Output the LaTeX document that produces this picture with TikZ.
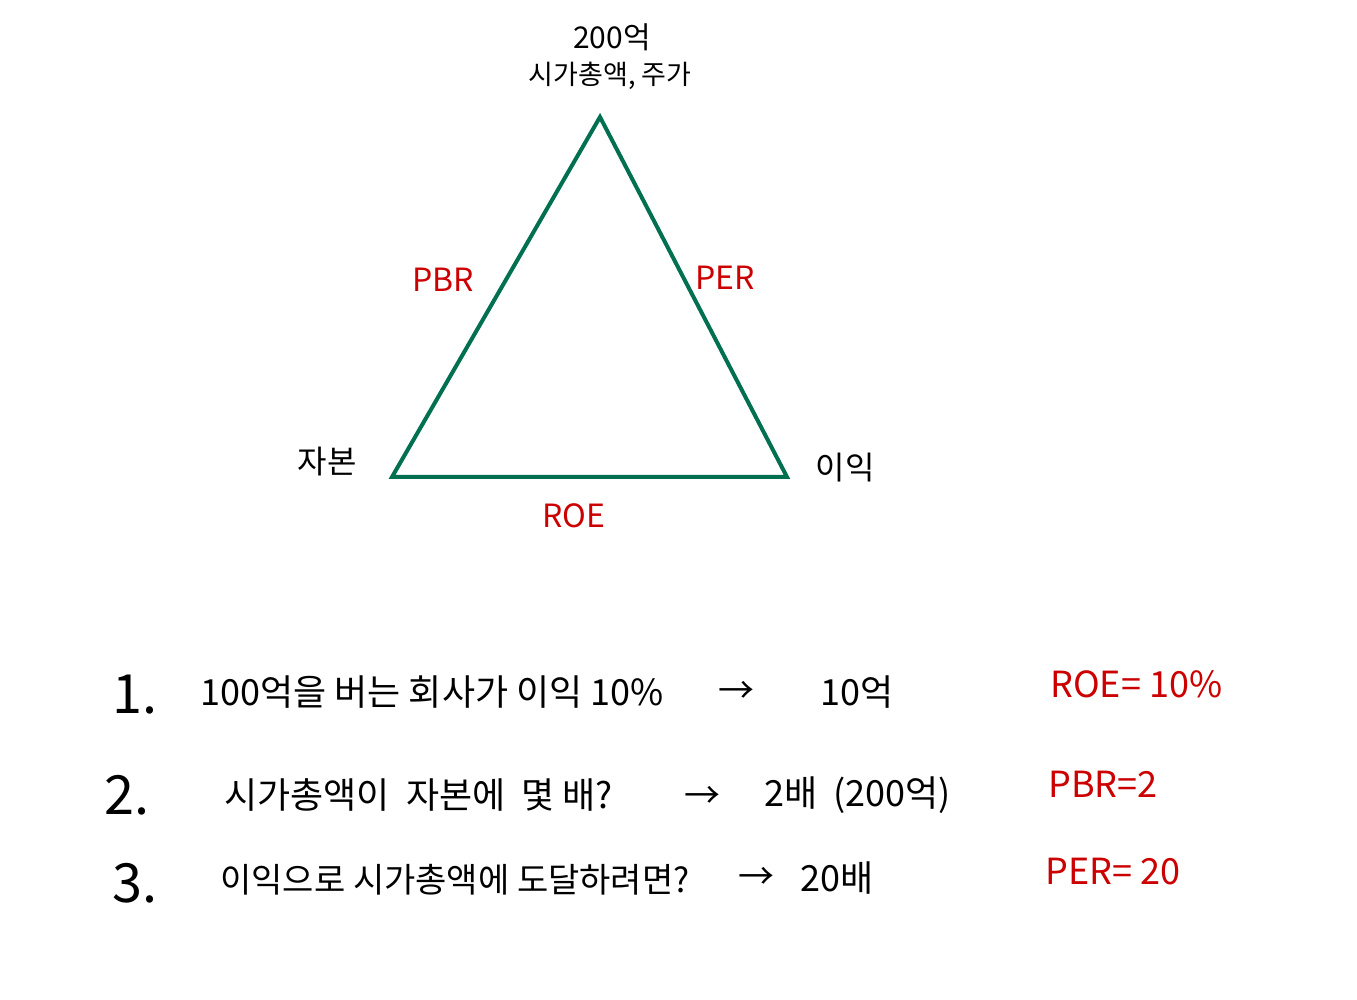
\documentclass[tikz,border=0pt]{standalone}
\usepackage{fontspec}
\setmainfont{Noto Sans CJK KR}
\definecolor{tgreen}{RGB}{0,112,80}
\definecolor{tred}{RGB}{204,0,0}
\begin{document}
\begin{tikzpicture}[x=0.5pt,y=-0.5pt,
  lbl/.style={inner sep=0pt, font=\fontsize{16}{18}\selectfont},
  redlbl/.style={inner sep=0pt, text=tred, font=\fontsize{16}{19}\selectfont},
  body/.style={inner sep=0pt, anchor=west, font=\fontsize{18}{21}\selectfont},
  num/.style={inner sep=0pt, anchor=west, font=\fontsize{27}{30}\selectfont},
  ans/.style={inner sep=0pt, anchor=west, text=tred, font=\fontsize{18}{21}\selectfont}]
\useasboundingbox[fill=white] (0,0) rectangle (1357,1000);
% triangle
\coordinate (top) at (600,117);
\coordinate (bl) at (392,477);
\coordinate (br) at (787,477);
\draw[tgreen, line width=2pt, line join=miter] (top) -- (br) -- (bl) -- cycle;
% vertex labels
\node[lbl, font=\fontsize{15}{16}\selectfont] (amt) at (612,37) {200억};
\node[lbl, font=\fontsize{13.5}{16}\selectfont] (cap) at (610,76) {시가총액, 주가};
\node[lbl] (equity) at (327,462) {자본};
\node[lbl] (profit) at (845,468) {이익};
% edge labels
\node[redlbl] (pbr) at (443,280) {PBR};
\node[redlbl] (per) at (725,278) {PER};
\node[redlbl] (roe) at (574,516) {ROE};
% line 1
\node[num] (n1) at (112,695) {1.};
\node[body] (t1) at (200,692) {100억을 버는 회사가 이익 10\%};
\node[body] (a1) at (718,692) {→};
\node[body] (r1) at (820,692) {10억};
\node[ans] (s1) at (1050,684) {ROE= 10\%};
% line 2
\node[num] (n2) at (104,795) {2.};
\node[body] (t2) at (224,795) {시가총액이 \ 자본에 \ 몇 배?};
\node[body] (a2) at (684,797) {→};
\node[body] (r2) at (764,795) {2배 \ (200억)};
\node[ans] (s2) at (1048,784) {PBR=2};
% line 3
\node[num] (n3) at (112,883) {3.};
\node[body, font=\fontsize{17}{20}\selectfont] (t3) at (220,880) {이익으로 시가총액에 도달하려면?};
\node[body] (a3) at (738,878) {→};
\node[body] (r3) at (800,878) {20배};
\node[ans] (s3) at (1045,872) {PER= 20};
\end{tikzpicture}
\end{document}
